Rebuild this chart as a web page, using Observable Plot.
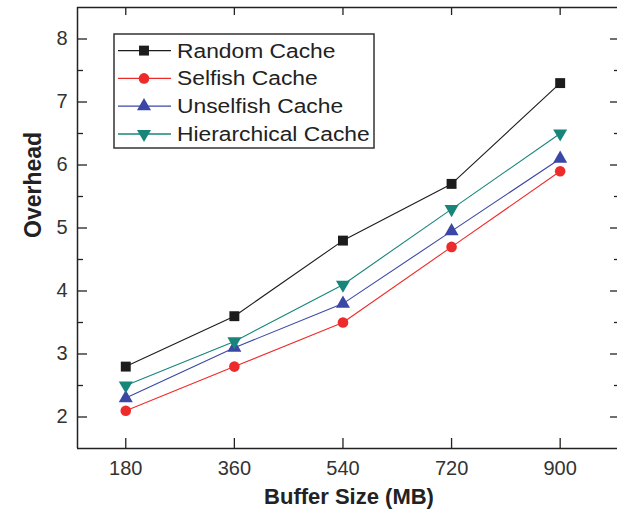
<!DOCTYPE html>
<html><head><meta charset="utf-8">
<script src="https://cdn.jsdelivr.net/npm/d3@7"></script>
<script src="https://cdn.jsdelivr.net/npm/@observablehq/plot@0.6"></script>
<style>
html,body{margin:0;padding:0;background:#fff;overflow:hidden}
#wrap{position:relative;width:617px;height:517px}
#legend{position:absolute;left:0;top:0;pointer-events:none}
</style></head><body><div id="wrap"></div>
<script>
const bufferSizes = [180, 360, 540, 720, 900];
const seriesNames = ["Random Cache", "Selfish Cache", "Unselfish Cache", "Hierarchical Cache"];
const randomCache = [2.8, 3.6, 4.8, 5.7, 7.3];
const selfishCache = [2.1, 2.8, 3.5, 4.7, 5.9];
const unselfishCache = [2.3, 3.1, 3.8, 4.95, 6.1];
const hierarchicalCache = [2.5, 3.2, 4.1, 5.3, 6.5];
const xTicks = [180, 360, 540, 720, 900];
const yTicks = [2, 3, 4, 5, 6, 7, 8];
const yMinorTicks = [2.5, 3.5, 4.5, 5.5, 6.5, 7.5];
const xLabel = "Buffer Size (MB)";
const yLabel = "Overhead";

const seriesValues = [randomCache, selfishCache, unselfishCache, hierarchicalCache];
const colors = ["#1c1c1c", "#ee2b2b", "#3a47a6", "#17857a"];
const symbols = ["square", "circle", "triangle", "triangle"];
const d3symbols = [d3.symbolSquare, d3.symbolCircle, d3.symbolTriangle, d3.symbolTriangle];
const rotations = [0, 0, 0, 180];
const radii = [5.6, 5.3, 5.2, 5.2];

const rows = [];
seriesNames.forEach((name, i) => {
  bufferSizes.forEach((x, j) => rows.push({series: name, i, x, y: seriesValues[i][j]}));
});

const W = 617, H = 517, mT = 7, mB = 69, mL = 77, mR = -3;
const fw = W - mL - mR, fh = H - mT - mB;
const axisCol = "#222";

const marks = [];
// frame lines
marks.push(Plot.ruleX([100], {stroke: axisCol, strokeWidth: 1.5}));
marks.push(Plot.ruleY([1.5, 8.5], {stroke: axisCol, strokeWidth: 1.5}));
// ticks (inward)
marks.push(Plot.tickY(yTicks, {y: d => d, insetRight: fw - 10, stroke: axisCol, strokeWidth: 1.3}));
marks.push(Plot.tickY(yMinorTicks, {y: d => d, insetRight: fw - 6, stroke: axisCol, strokeWidth: 1.3}));
marks.push(Plot.tickY(yTicks, {y: d => d, insetLeft: fw - 10, stroke: axisCol, strokeWidth: 1.3}));
marks.push(Plot.tickY(yMinorTicks, {y: d => d, insetLeft: fw - 6, stroke: axisCol, strokeWidth: 1.3}));
marks.push(Plot.tickX(xTicks, {x: d => d, insetTop: fh - 10, stroke: axisCol, strokeWidth: 1.3}));
marks.push(Plot.tickX(xTicks, {x: d => d, insetBottom: fh - 8, stroke: axisCol, strokeWidth: 1.3}));
// tick labels
marks.push(Plot.axisY(yTicks, {anchor: "left", tickSize: 0, tickPadding: 10, fontSize: 20, label: null, fill: "#333", tickFormat: d => String(d)}));
marks.push(Plot.axisX(xTicks, {anchor: "bottom", tickSize: 0, tickPadding: 12, fontSize: 20, label: null, fill: "#333", tickFormat: d => String(d)}));
// axis titles
marks.push(Plot.text([xLabel], {text: d => d, frameAnchor: "bottom", dy: 55, fontSize: 22, fontWeight: "bold", fill: "#222"}));
marks.push(Plot.text([yLabel], {text: d => d, frameAnchor: "left", rotate: -90, dx: -44, dy: 10, fontSize: 23, fontWeight: "bold", fill: "#222"}));
// series
seriesNames.forEach((name, i) => {
  const data = rows.filter(r => r.series === name);
  marks.push(Plot.line(data, {x: "x", y: "y", stroke: colors[i], strokeWidth: 1.1}));
});
seriesNames.forEach((name, i) => {
  const data = rows.filter(r => r.series === name);
  marks.push(Plot.dot(data, {x: "x", y: "y", symbol: symbols[i], r: radii[i], fill: colors[i], stroke: "none", rotate: rotations[i]}));
});

const chart = Plot.plot({
  width: W, height: H,
  marginTop: mT, marginBottom: mB, marginLeft: mL, marginRight: mR,
  x: {domain: [100, 1000], axis: null},
  y: {domain: [1.5, 8.5], axis: null},
  style: {fontFamily: "'Liberation Sans', Arial, sans-serif", background: "white", color: "#222"},
  marks
});
document.getElementById("wrap").appendChild(chart);

// legend
const leg = d3.select("#wrap").append("svg").attr("id", "legend").attr("width", W).attr("height", H);
leg.append("rect").attr("x", 114).attr("y", 34).attr("width", 260).attr("height", 114)
  .attr("fill", "white").attr("stroke", "#333").attr("stroke-width", 1.5);
seriesNames.forEach((name, i) => {
  const y = 50.6 + i * 27.8;
  leg.append("line").attr("x1", 118).attr("x2", 171).attr("y1", y).attr("y2", y)
    .attr("stroke", colors[i]).attr("stroke-width", 1.3);
  leg.append("path").attr("d", d3.symbol(d3symbols[i], Math.PI * radii[i] * radii[i])())
    .attr("transform", `translate(144,${y}) rotate(${rotations[i]})`).attr("fill", colors[i]);
  leg.append("text").attr("transform", `translate(177,${y}) scale(1.17,1)`).attr("dy", "0.36em")
    .attr("font-family", "'Liberation Sans', Arial, sans-serif").attr("font-size", 19.5)
    .attr("fill", "#222").text(name);
});
</script></body></html>
